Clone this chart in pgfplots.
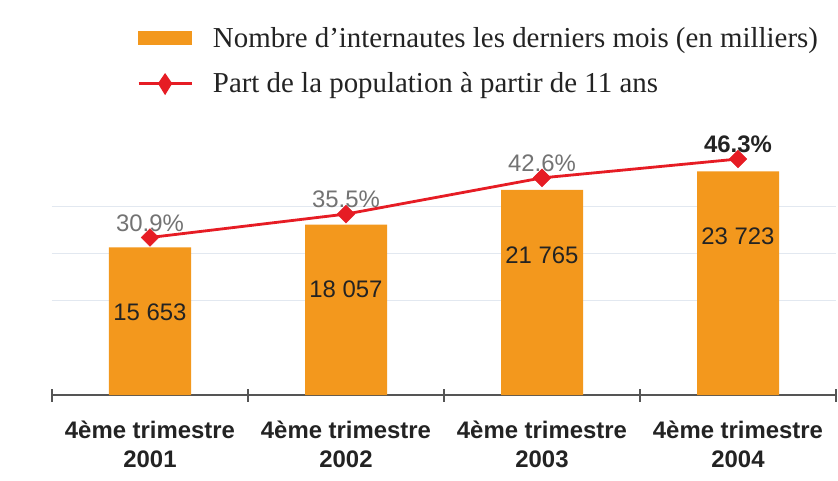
\documentclass[border=0pt]{standalone}
\usepackage{fontspec}
\usepackage{pgfplots}
\pgfplotsset{compat=1.18}
\setmainfont{Liberation Sans}
\newfontfamily\lserif{Liberation Serif}
\definecolor{barorange}{RGB}{243,152,29}
\definecolor{linered}{RGB}{230,28,36}
\definecolor{gridc}{RGB}{226,232,240}
\definecolor{axc}{RGB}{85,85,85}
\definecolor{lblgray}{RGB}{115,115,115}
\definecolor{lbldark}{RGB}{35,35,35}
\begin{document}
\begin{tikzpicture}
\path[use as bounding box, fill=white] (-52bp,-86bp) rectangle (786bp,395bp);
\begin{axis}[
  scale only axis, width=784bp, height=264bp,
  at={(0bp,0bp)}, anchor=south west,
  xmin=-0.5, xmax=3.5, ymin=0, ymax=28000,
  clip=false,
  axis x line*=bottom, axis y line*=left,
  y axis line style={draw=none},
  x axis line style={draw=axc, line width=1.6bp},
  xtick={-0.5,0.5,1.5,2.5,3.5},
  x tick label as interval,
  xticklabels={{4ème trimestre\\2001},{4ème trimestre\\2002},{4ème trimestre\\2003},{4ème trimestre\\2004}},
  xticklabel style={align=center, font=\fontsize{24}{29}\selectfont\bfseries, text=lbldark, yshift=-16bp},
  tick align=center, major tick length=13bp,
  x tick style={draw=axc, line width=1.6bp},
  ytick={10000,15000,20000}, yticklabels={},
  scaled y ticks=false,
  y tick style={draw=none},
  ymajorgrids, grid style={draw=gridc, line width=1.5bp},
]
\addplot[ybar, bar width=82bp, fill=barorange, draw=none,
  nodes near coords, point meta=explicit symbolic,
  nodes near coords align={center},
  every node near coord/.append style={yshift=-65bp, font=\fontsize{24}{24}\selectfont, text=lbldark, inner sep=0pt}]
  coordinates {(0,15653) [15 653] (1,18057) [18 057] (2,21765) [21 765] (3,23723) [23 723]};
\end{axis}
\begin{axis}[
  scale only axis, width=784bp, height=264bp,
  at={(0bp,0bp)}, anchor=south west,
  xmin=-0.5, xmax=3.5, ymin=0, ymax=51.8,
  clip=false, axis lines=none,
  legend style={at={(axis description cs:0.1084,1.4015)}, anchor=north west,
    draw=none, fill=none, inner sep=0pt, row sep=20bp, column sep=18bp,
    font=\lserif\fontsize{29}{34}\selectfont, text=lbldark},
  legend cell align=left,
]
\addlegendimage{legend image code/.code={\fill[barorange] (0bp,-6.5bp) rectangle (53bp,6.5bp);}}
\addlegendentry{Nombre d’internautes les derniers mois (en milliers)}
\addplot[linered, line width=2.8bp, mark=square*, mark size=6.3bp,
  mark options={rotate=45, fill=linered, draw=linered, line width=0.4bp},
  nodes near coords, point meta=explicit symbolic,
  nodes near coords align={south},
  every node near coord/.append style={yshift=6bp, font=\fontsize{24}{24}\selectfont, text=lblgray, inner sep=0pt},
  legend image code/.code={\draw[linered, line width=2.8bp] (0bp,0bp) -- (53bp,0bp);
    \fill[linered] (26.5bp,-9bp) -- (32bp,0bp) -- (26.5bp,8bp) -- (21bp,0bp) -- cycle;}]
  coordinates {(0,30.9) [30.9\%] (1,35.5) [35.5\%] (2,42.6) [42.6\%] (3,46.3) [{\bfseries\color{lbldark}46.3\%}]};
\addlegendentry{Part de la population à partir de 11 ans}
\end{axis}
\end{tikzpicture}
\end{document}
